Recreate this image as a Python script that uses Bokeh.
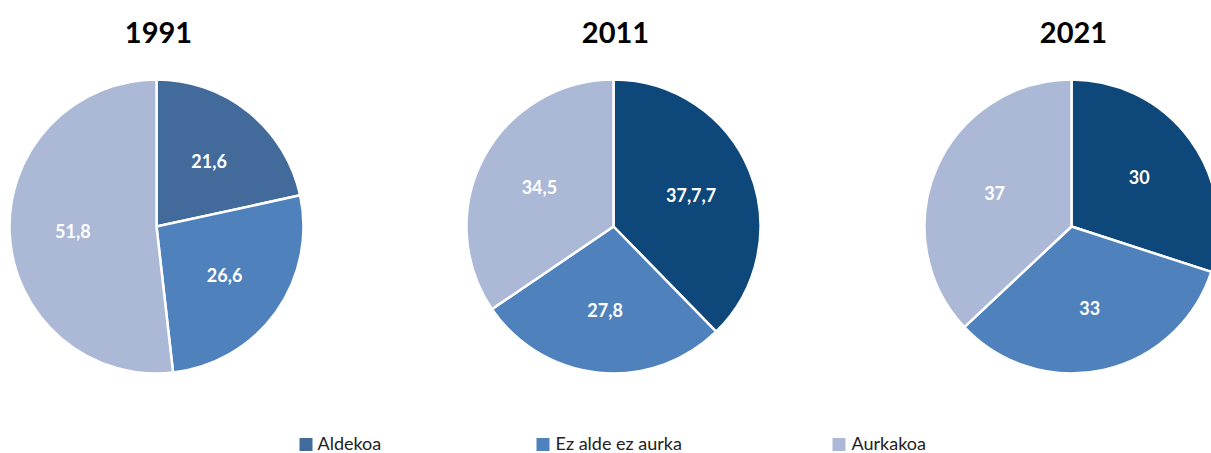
import math
from bokeh.plotting import figure
from bokeh.models import Range1d, ColumnDataSource
from bokeh.core.properties import value
from bokeh.embed import file_html
from bokeh.resources import INLINE

# ---- data ----
years = ["1991", "2011", "2021"]
categories = ["Aldekoa", "Ez alde ez aurka", "Aurkakoa"]
values_1991 = [21.6, 26.6, 51.8]
values_2011 = [37.7, 27.8, 34.5]
values_2021 = [30, 33, 37]
labels_1991 = ["21,6", "26,6", "51,8"]
labels_2011 = ["37,7,7", "27,8", "34,5"]
labels_2021 = ["30", "33", "37"]
colors_1991 = ["#426a9b", "#4f81bd", "#abb9d7"]
colors_later = ["#0e4779", "#4f81bd", "#abb9d7"]
legend_colors = ["#426a9b", "#4f81bd", "#abb9d7"]

W, H = 1211, 453
def X(sx):
    return sx - 1
def Y(sy):
    return H - sy - 1

p = figure(width=W, height=H, output_backend="svg", toolbar_location=None,
           x_range=Range1d(0, W), y_range=Range1d(0, H), min_border=0)
p.axis.visible = False
p.grid.visible = False
p.outline_line_color = None
p.background_fill_color = "white"
p.border_fill_color = "white"

centers = [(157, 225), (614, 225), (1072, 225)]
R = 147
series = [values_1991, values_2011, values_2021]
labels = [labels_1991, labels_2011, labels_2021]
palettes = [colors_1991, colors_later, colors_later]

for (cx, cy), vals, labs, cols, yr in zip(centers, series, labels, palettes, years):
    total = sum(vals)
    starts, ends, lx, ly = [], [], [], []
    cum = 0.0
    for v in vals:
        a0 = math.pi / 2 - 2 * math.pi * cum / total
        a1 = math.pi / 2 - 2 * math.pi * (cum + v) / total
        starts.append(a0)
        ends.append(a1)
        mid = (a0 + a1) / 2
        d = 0.57 * R
        lx.append(X(cx) + d * math.cos(mid))
        ly.append(Y(cy) + d * math.sin(mid))
        cum += v
    src = ColumnDataSource(dict(start=starts, end=ends, color=cols,
                                x=[X(cx)] * 3, y=[Y(cy)] * 3))
    p.wedge(x="x", y="y", radius=R, radius_units="screen",
            start_angle="start", end_angle="end", direction="clock",
            fill_color="color", line_color="white", line_width=2.5, source=src)
    p.text(x=lx, y=ly, text=labs, text_color="white",
           text_font=value("Lato"), text_font_style="bold",
           text_font_size="18px", text_align="center", text_baseline="middle")
    p.text(x=[X(cx + 2)], y=[Y(31)], text=[yr], text_color="black",
           text_font=value("Lato"), text_font_style="bold",
           text_font_size="29px", text_align="center",
           text_baseline="middle")

# legend
leg_sq_x = [306.5, 543.5, 839.5]
leg_tx_x = [318, 556, 852]
p.scatter(x=[X(v) for v in leg_sq_x], y=[Y(443)] * 3, marker="square",
          size=13, fill_color=legend_colors, line_color=None)
p.text(x=[X(v) for v in leg_tx_x], y=[Y(441)] * 3, text=categories,
       text_color="#222222", text_font=value("Lato"), text_font_size="18px",
       text_align="left", text_baseline="middle")

open("out.html", "w").write(file_html(p, INLINE))
